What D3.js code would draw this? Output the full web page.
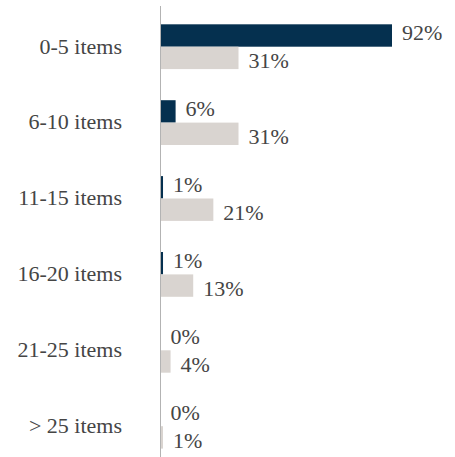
<!DOCTYPE html>
<html>
<head>
<meta charset="utf-8">
<script src="https://cdn.jsdelivr.net/npm/d3@7"></script>
<style>
  html, body { margin: 0; padding: 0; background: #ffffff; }
  svg { display: block; }
</style>
</head>
<body>
<div id="chart"></div>
<script>
// Basket size buckets and the share of orders in each, for two groups
const categories = ["0-5 items", "6-10 items", "11-15 items", "16-20 items", "21-25 items", "> 25 items"];
const seriesNames = ["primary", "comparison"];
const primaryValues = [92, 6, 1, 1, 0, 0];
const comparisonValues = [31, 31, 21, 13, 4, 1];
const seriesColors = ["#05304f", "#d9d4d0"];

const width = 455, height = 457;
const axisX = 160.5;

const svg = d3.select("#chart").append("svg")
  .attr("width", width)
  .attr("height", height);

const rows = categories.map((c, i) => ({
  category: c,
  values: [
    { series: seriesNames[0], value: primaryValues[i] },
    { series: seriesNames[1], value: comparisonValues[i] }
  ]
}));

const x = d3.scaleLinear().domain([0, 92]).range([axisX, 392]);

const y = d3.scaleBand()
  .domain(categories)
  .range([8.75, 464.15])
  .paddingInner(0.41)
  .paddingOuter(0.205);

const ySub = d3.scaleBand()
  .domain(seriesNames)
  .range([0, y.bandwidth()]);

const color = d3.scaleOrdinal().domain(seriesNames).range(seriesColors);

const fontFamily = "'Liberation Serif', 'Times New Roman', serif";
const textColor = "#454545";
const fontSize = 22;

// Category labels
svg.append("g")
  .selectAll("text")
  .data(categories)
  .join("text")
  .attr("x", 122)
  .attr("y", d => y(d) + y.bandwidth() / 2)
  .attr("dy", "0.31em")
  .attr("text-anchor", "end")
  .attr("font-family", fontFamily)
  .attr("font-size", fontSize)
  .attr("fill", textColor)
  .text(d => d);

const groups = svg.append("g")
  .selectAll("g")
  .data(rows)
  .join("g")
  .attr("transform", d => `translate(0,${y(d.category)})`);

// Bars
groups.selectAll("rect")
  .data(d => d.values)
  .join("rect")
  .attr("x", x(0))
  .attr("y", d => ySub(d.series))
  .attr("width", d => x(d.value) - x(0))
  .attr("height", ySub.bandwidth())
  .attr("fill", d => color(d.series));

// Value labels
groups.selectAll("text")
  .data(d => d.values)
  .join("text")
  .attr("x", d => x(d.value) + 10)
  .attr("y", d => ySub(d.series) + ySub.bandwidth() / 2 + (d.series === seriesNames[0] ? 4.7 : 10.3))
  .attr("font-family", fontFamily)
  .attr("font-size", fontSize)
  .attr("fill", textColor)
  .text(d => d.value + "%");

// Vertical baseline
svg.append("line")
  .attr("x1", axisX).attr("x2", axisX)
  .attr("y1", 6).attr("y2", height)
  .attr("stroke", "#b3b3b3")
  .attr("stroke-width", 1);
</script>
</body>
</html>
